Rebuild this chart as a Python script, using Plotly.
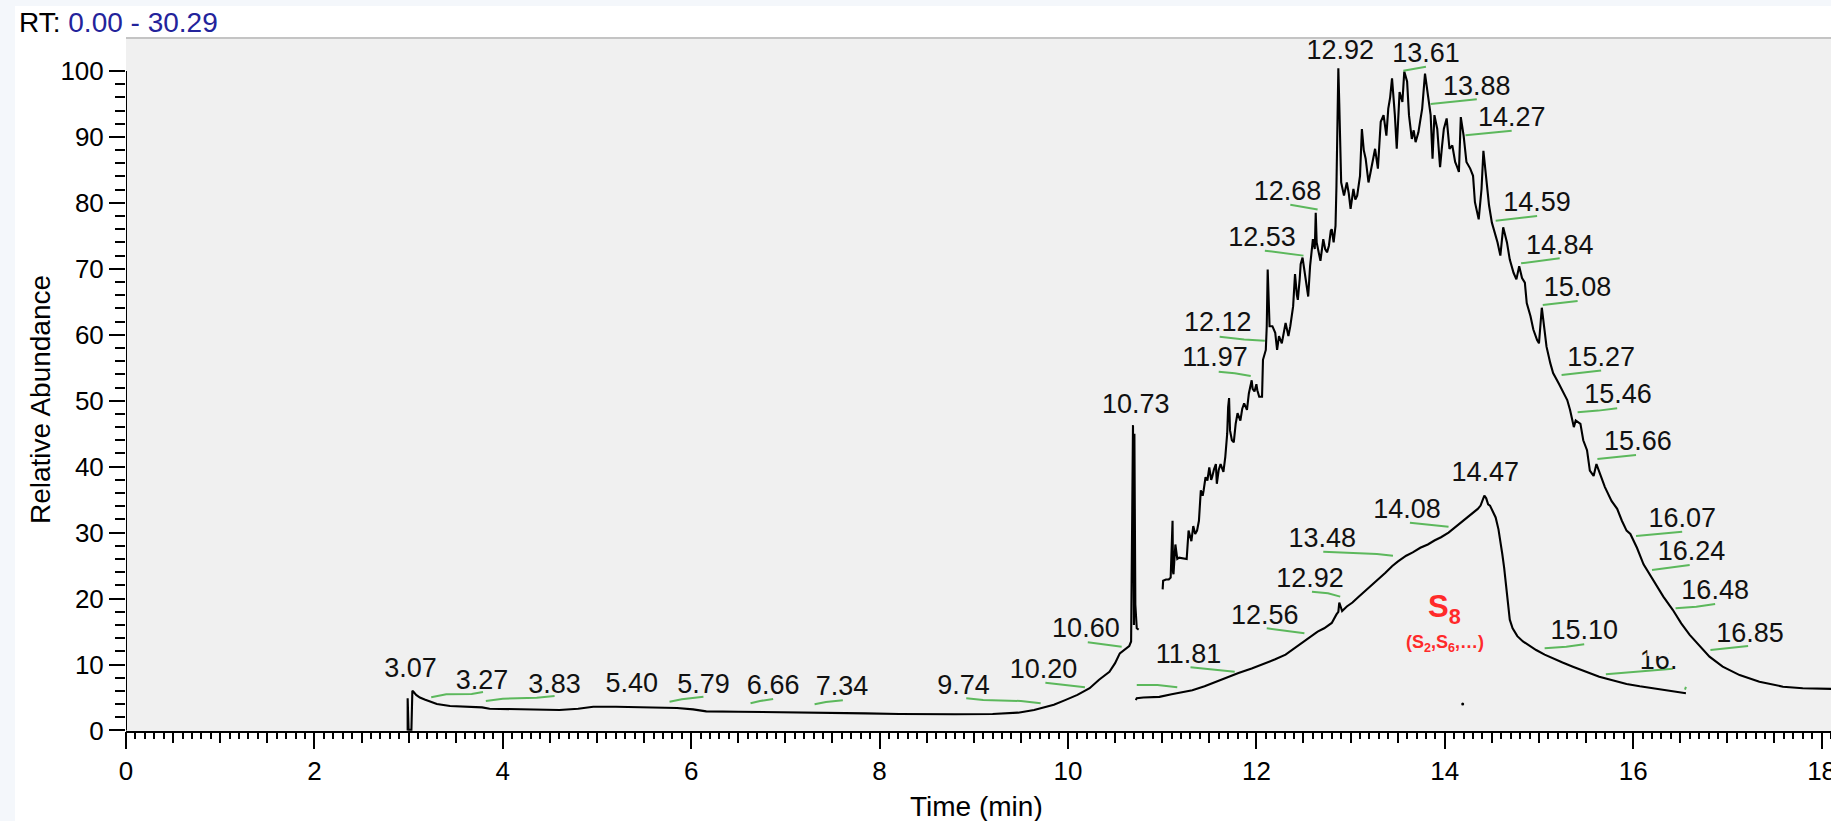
import plotly.graph_objects as go

# ---------------- data ----------------
# early chromatogram segment (3.0 - 10.75 min)
early_t = [2.99, 2.99, 3.00, 3.03, 3.04, 3.05, 3.08, 3.12, 3.17, 3.22, 3.30, 3.44, 3.55, 3.72, 3.78,
           3.86, 4.00, 4.14, 4.30, 4.45, 4.60, 4.80, 4.96, 5.20, 5.45, 5.70, 5.85, 6.02, 6.16, 6.50,
           6.90, 7.20, 7.47, 7.85, 8.21, 8.50, 8.80, 9.20, 9.47, 9.64, 9.75, 9.85, 9.97, 10.10, 10.23,
           10.33, 10.44, 10.50, 10.55, 10.58, 10.62, 10.65, 10.67, 10.685, 10.69, 10.70, 10.705, 10.715,
           10.73, 10.75]
early_i = [0.0, 4.9, 0.1, 0.1, 6.0, 5.9, 5.4, 5.0, 4.7, 4.4, 4.0, 3.7, 3.6, 3.5, 3.5,
           3.3, 3.25, 3.2, 3.15, 3.1, 3.1, 3.3, 3.6, 3.6, 3.55, 3.5, 3.4, 3.2, 2.9, 2.85,
           2.8, 2.75, 2.7, 2.6, 2.5, 2.45, 2.45, 2.5, 2.7, 3.1, 3.5, 3.9, 4.6, 5.4, 6.4,
           7.7, 8.9, 10.2, 11.7, 12.0, 12.4, 12.8, 13.5, 44.8, 46.3, 16.0, 45.0, 19.1,
           15.5, 15.3]

# broad upper hump (11.0 - 18.1 min)
hump_t = [11.005, 11.01, 11.04, 11.07, 11.09, 11.10, 11.11, 11.115, 11.12, 11.14, 11.16, 11.18, 11.22,
          11.26, 11.28, 11.31, 11.33, 11.35, 11.37, 11.39, 11.41, 11.43, 11.44, 11.46, 11.48, 11.50,
          11.52, 11.53, 11.55, 11.57, 11.58, 11.60, 11.62, 11.65, 11.67, 11.69, 11.70, 11.71, 11.72,
          11.74, 11.76, 11.78, 11.80, 11.83, 11.85, 11.87, 11.90, 11.92, 11.95, 11.96, 11.98, 12.00,
          12.01, 12.03, 12.06, 12.07, 12.10, 12.11, 12.12, 12.13, 12.14, 12.17, 12.20, 12.22, 12.24,
          12.27, 12.29, 12.31, 12.34, 12.36, 12.39, 12.41, 12.43, 12.44, 12.46, 12.47, 12.49, 12.52,
          12.55, 12.57, 12.60, 12.62, 12.63, 12.64, 12.66, 12.68, 12.71, 12.73, 12.75, 12.77, 12.79,
          12.80, 12.82, 12.84, 12.85, 12.86, 12.87, 12.88, 12.89, 12.90, 12.93, 12.96, 12.98, 13.00,
          13.03, 13.05, 13.07, 13.10, 13.12, 13.14, 13.16, 13.19, 13.21, 13.23, 13.26, 13.29, 13.31,
          13.32, 13.35, 13.38, 13.40, 13.42, 13.44, 13.46, 13.47, 13.49, 13.51, 13.52, 13.55, 13.57,
          13.60, 13.62, 13.65, 13.67, 13.69, 13.72, 13.74, 13.76, 13.79, 13.82, 13.85, 13.87, 13.89,
          13.92, 13.95, 13.97, 13.99, 14.02, 14.05, 14.08, 14.11, 14.13, 14.15, 14.17, 14.20, 14.23,
          14.27, 14.30, 14.32, 14.36, 14.38, 14.39, 14.41, 14.44, 14.47, 14.50, 14.54, 14.56, 14.59,
          14.62, 14.66, 14.69, 14.73, 14.76, 14.79, 14.82, 14.85, 14.87, 14.91, 14.94, 14.98, 15.00,
          15.03, 15.06, 15.08, 15.12, 15.15, 15.21, 15.26, 15.30, 15.33, 15.37, 15.39, 15.44, 15.47,
          15.51, 15.54, 15.58, 15.61, 15.65, 15.70, 15.77, 15.83, 15.88, 15.93, 15.97, 16.04, 16.11,
          16.21, 16.32, 16.42, 16.51, 16.60, 16.71, 16.81, 16.95, 17.13, 17.34, 17.59, 17.80, 18.10]
hump_i = [21.4, 22.7, 22.9, 22.9, 23.2, 29.0, 31.8, 24.0, 23.7, 28.2, 26.0, 26.2, 26.1,
          26.0, 30.3, 28.7, 31.0, 29.8, 30.3, 31.8, 36.4, 35.6, 36.4, 38.4, 37.9, 39.9,
          38.0, 38.4, 39.6, 40.4, 37.4, 39.5, 40.4, 39.2, 41.5, 45.0, 49.0, 50.4, 45.5,
          44.0, 43.7, 46.5, 48.1, 47.0, 48.8, 49.6, 48.6, 51.1, 53.1, 51.8, 51.4, 52.5,
          51.6, 50.6, 50.6, 56.2, 57.7, 61.3, 69.9, 63.0, 61.3, 61.3, 60.3, 57.7, 59.8,
          58.7, 60.5, 61.8, 59.8, 61.3, 64.3, 69.2, 66.0, 65.3, 68.5, 70.7, 71.7, 68.4,
          65.8, 70.4, 74.5, 73.0, 78.5, 74.0, 72.5, 71.2, 74.5, 73.0, 72.5, 73.5, 75.8,
          76.0, 74.0, 76.5, 82.6, 90.0, 100.4, 95.0, 86.0, 83.1, 81.1, 83.1, 81.5, 79.1,
          82.1, 80.5, 81.1, 84.1, 91.2, 88.0, 86.7, 83.1, 84.5, 86.2, 88.2, 85.2, 89.5,
          92.3, 93.3, 90.2, 94.3, 96.0, 98.9, 95.5, 93.3, 88.2, 93.0, 96.8, 95.3, 99.9,
          98.4, 93.3, 89.7, 91.0, 89.2, 90.7, 92.5, 94.3, 99.6, 96.3, 93.3, 86.7, 93.3,
          91.2, 85.4, 88.5, 91.2, 92.8, 88.2, 88.7, 86.2, 85.5, 84.7, 93.0, 90.2, 86.2,
          85.2, 84.1, 80.1, 77.5, 80.0, 82.1, 87.9, 84.1, 79.6, 77.0, 75.0, 74.0, 72.0,
          76.3, 74.0, 71.4, 69.4, 68.4, 70.4, 68.6, 67.9, 64.8, 62.8, 60.8, 59.2, 58.7,
          64.1, 60.3, 58.2, 55.7, 54.2, 52.6, 51.1, 50.1, 48.6, 46.0, 47.0, 46.5, 44.0,
          42.5, 39.4, 38.6, 40.4, 38.9, 36.9, 34.8, 33.6, 31.8, 30.3, 29.8, 27.7, 25.2,
          22.8, 20.3, 18.3, 16.25, 14.5, 12.7, 11.2, 9.67, 8.4, 7.4, 6.64, 6.4, 6.3]

# lower S8 trace (10.72 - 16.56 min)
s8_t = [10.72, 10.73, 10.80, 10.97, 11.10, 11.20, 11.32, 11.45, 11.57, 11.70, 11.81, 11.95, 12.06,
        12.20, 12.31, 12.40, 12.50, 12.58, 12.65, 12.72, 12.80, 12.85, 12.87, 12.88, 12.90, 12.91,
        12.96, 13.02, 13.08, 13.15, 13.22, 13.30, 13.37, 13.44, 13.50, 13.59, 13.66, 13.74, 13.82,
        13.89, 13.96, 14.04, 14.12, 14.19, 14.25, 14.31, 14.35, 14.38, 14.40, 14.42, 14.44, 14.46,
        14.48, 14.51, 14.54, 14.57, 14.59, 14.61, 14.63, 14.65, 14.67, 14.69, 14.72, 14.77, 14.83,
        14.90, 14.97, 15.06, 15.15, 15.25, 15.36, 15.50, 15.64, 15.78, 15.93, 16.07, 16.21, 16.38,
        16.56]
s8_i = [4.6, 4.9, 5.0, 5.1, 5.5, 5.8, 6.1, 6.7, 7.4, 8.1, 8.7, 9.4, 10.0,
        10.8, 11.5, 12.4, 13.5, 14.2, 15.0, 15.5, 16.3, 17.6, 18.0, 19.4, 18.4, 18.1,
        18.8, 19.4, 20.2, 21.1, 22.0, 22.9, 23.9, 24.9, 25.6, 26.5, 27.0, 27.7, 28.2,
        28.8, 29.3, 30.0, 30.9, 31.8, 32.4, 33.1, 33.6, 34.1, 34.8, 35.6, 35.2, 34.3,
        34.1, 33.3, 32.3, 30.5, 28.8, 26.8, 24.7, 22.3, 19.0, 16.8, 15.5, 14.3, 13.5,
        12.8, 12.2, 11.5, 10.9, 10.3, 9.67, 8.9, 8.16, 7.6, 7.05, 6.7, 6.4, 6.0,
        5.64]

# stray point
dot_t = [14.19]
dot_i = [4.0]

# peak labels (retention time text, position)
label_text = ["3.07", "3.27", "3.83", "5.40", "5.79", "6.66", "7.34", "9.74", "10.20", "10.60",
              "10.73", "11.81", "11.97", "12.12", "12.53", "12.68", "12.92", "13.61", "13.88",
              "14.27", "14.59", "14.84", "15.08", "15.27", "15.46", "15.66", "16.07", "16.24",
              "16.48", "16.85", "12.56", "12.92", "13.48", "14.08", "14.47", "15.10", "16."]
label_x = [3.02, 3.78, 4.55, 5.37, 6.13, 6.87, 7.60, 8.89, 9.74, 10.19,
           10.72, 11.28, 11.56, 11.59, 12.06, 12.33, 12.89, 13.80, 14.34,
           14.71, 14.98, 15.22, 15.41, 15.66, 15.84, 16.05, 16.52, 16.62,
           16.87, 17.24, 12.09, 12.57, 12.70, 13.60, 14.43, 15.48, 16.27]
label_y = [9.17, 7.25, 6.75, 6.9, 6.75, 6.55, 6.4, 6.55, 8.92, 15.13,
           49.2, 11.3, 56.3, 61.6, 74.5, 81.5, 102.9, 102.4, 97.4,
           92.7, 79.8, 73.3, 66.9, 56.3, 50.7, 43.55, 31.9, 26.9,
           20.9, 14.5, 17.16, 22.82, 28.9, 33.3, 38.9, 14.9, 10.4]

# compound annotation
s8_label = "<b>S<sub>8</sub></b>"
s8_sub_label = "<b>(S<sub>2</sub>,S<sub>6</sub>,…)</b>"
s8_label_pos = (14.0, 18.4)
s8_sub_pos = (14.0, 13.2)

# green label leaders: one list of (t, intensity) points per leader
leaders = [
    [(3.24, 5.03), (3.40, 5.49), (3.67, 5.53), (3.79, 5.84)],
    [(3.82, 4.47), (4.00, 4.82), (4.36, 4.97), (4.55, 5.23)],
    [(5.77, 4.37), (5.90, 4.73), (6.13, 5.13)],
    [(6.63, 4.12), (6.73, 4.47), (6.87, 4.78)],
    [(7.31, 3.97), (7.43, 4.32), (7.61, 4.58)],
    [(8.92, 4.88), (9.10, 4.62), (9.50, 4.47), (9.71, 4.12)],
    [(9.76, 7.25), (9.90, 7.05), (10.18, 6.55)],
    [(10.21, 13.37), (10.40, 13.07), (10.57, 12.71)],
    [(10.73, 6.9), (10.95, 6.9), (11.16, 6.55)],
    [(11.30, 9.58), (11.52, 9.28), (11.77, 8.92)],
    [(11.60, 54.4), (11.77, 54.16), (11.94, 53.75)],
    [(11.61, 59.7), (11.87, 59.3), (12.09, 59.1)],
    [(12.09, 72.75), (12.32, 72.36), (12.50, 72.0)],
    [(12.36, 79.7), (12.51, 79.3), (12.65, 79.0)],
    [(13.56, 100.05), (13.70, 100.4), (13.80, 100.65)],
    [(13.85, 95.0), (14.10, 95.35), (14.34, 95.7)],
    [(14.22, 90.25), (14.47, 90.65), (14.71, 90.95)],
    [(14.54, 77.3), (14.77, 77.66), (14.98, 78.0)],
    [(14.81, 70.84), (15.01, 71.24), (15.22, 71.6)],
    [(15.04, 64.5), (15.24, 64.78), (15.41, 65.13)],
    [(15.24, 53.9), (15.46, 54.26), (15.66, 54.57)],
    [(15.41, 48.25), (15.63, 48.5), (15.83, 48.86)],
    [(15.62, 41.17), (15.83, 41.43), (16.03, 41.77)],
    [(16.03, 29.49), (16.27, 29.8), (16.52, 30.15)],
    [(16.20, 24.34), (16.40, 24.74), (16.60, 25.09)],
    [(16.45, 18.53), (16.67, 18.77), (16.87, 19.18)],
    [(16.82, 12.2), (17.02, 12.46), (17.22, 12.81)],
    [(12.11, 15.5), (12.32, 15.13), (12.51, 14.74)],
    [(12.59, 21.05), (12.76, 20.8), (12.89, 20.29)],
    [(12.71, 27.1), (13.01, 26.96), (13.28, 26.76), (13.45, 26.5)],
    [(13.63, 31.5), (13.85, 31.16), (14.04, 30.9)],
    [(15.06, 12.46), (15.29, 12.7), (15.48, 13.07)],
    [(15.71, 8.52), (16.03, 8.92), (16.42, 9.37)],
    [(16.55, 6.2), (16.56, 6.6)],
]

# axis ticks
x_major = [0, 2, 4, 6, 8, 10, 12, 14, 16, 18]
x_major_text = ["0", "2", "4", "6", "8", "10", "12", "14", "16", "18"]
y_major = [0, 10, 20, 30, 40, 50, 60, 70, 80, 90, 100]
y_major_text = ["0", "10", "20", "30", "40", "50", "60", "70", "80", "90", "100"]
y_minor = [v for v in range(2, 100, 2) if v % 10 != 0]

x_range = [0, 18.1]
y_range = [-0.08, 105.0]

# ---------------- figure ----------------
W, H = 1831, 821
ML, MR, MT, MB = 126, 0, 38, 90
PW, PH = W - ML - MR, H - MT - MB
FONT = "Liberation Sans, Arial, sans-serif"
INK = "#000000"


def px_x(p):
    return (p - ML) / PW


def px_y(p):
    return (H - MB - p) / PH


lead_x, lead_y = [], []
for seg in leaders:
    for t, v in seg:
        lead_x.append(t)
        lead_y.append(v)
    lead_x.append(None)
    lead_y.append(None)

fig = go.Figure()
line_style = dict(color="#000000", width=2.1)
fig.add_trace(go.Scatter(x=early_t, y=early_i, mode="lines", line=line_style, hoverinfo="skip"))
fig.add_trace(go.Scatter(x=hump_t, y=hump_i, mode="lines", line=line_style, hoverinfo="skip"))
fig.add_trace(go.Scatter(x=s8_t, y=s8_i, mode="lines", line=line_style, hoverinfo="skip"))
fig.add_trace(go.Scatter(x=dot_t, y=dot_i, mode="markers", marker=dict(color="#000", size=3),
                         hoverinfo="skip"))
fig.add_trace(go.Scatter(x=lead_x, y=lead_y, mode="lines",
                         line=dict(color="#5cb85c", width=2), hoverinfo="skip"))
fig.add_trace(go.Scatter(x=label_x, y=label_y, mode="text", text=label_text,
                         textposition="middle center",
                         textfont=dict(family=FONT, size=27, color="#111111"), hoverinfo="skip"))
# dummy trace for the medium (0.5 min) tick axis
fig.add_trace(go.Scatter(x=[x_range[0]], y=[None], xaxis="x2", yaxis="y", mode="lines",
                         hoverinfo="skip"))

tick_font = dict(family=FONT, size=26, color=INK)
fig.update_layout(
    width=W, height=H,
    margin=dict(l=ML, r=MR, t=MT, b=MB, pad=0, autoexpand=False),
    paper_bgcolor="#ffffff",
    plot_bgcolor="#f0f0f0",
    showlegend=False,
    hovermode=False,
    xaxis=dict(range=x_range, tickmode="array", tickvals=x_major, ticktext=x_major_text,
               ticks="outside", ticklen=16, tickwidth=2, tickcolor=INK,
               showline=True, linecolor=INK, linewidth=2, showgrid=False, zeroline=False,
               tickfont=tick_font, ticklabeloverflow="allow", automargin=False,
               minor=dict(dtick=0.1, tick0=0, ticks="outside", ticklen=6, tickwidth=1.5,
                          tickcolor=INK, showgrid=False)),
    xaxis2=dict(range=x_range, overlaying="x", anchor="y", side="bottom",
                tickmode="linear", tick0=0, dtick=0.5, ticks="outside", ticklen=11,
                tickwidth=2, tickcolor=INK, showticklabels=False, showline=False,
                showgrid=False, zeroline=False, automargin=False),
    yaxis=dict(range=y_range, tickmode="array", tickvals=y_major, ticktext=y_major_text,
               ticks="outside", ticklen=16, tickwidth=2, tickcolor=INK, automargin=False,
               showline=False, showgrid=False, zeroline=False, tickfont=tick_font,
               minor=dict(tickmode="array", tickvals=y_minor, ticks="outside", ticklen=10,
                          tickwidth=2, tickcolor=INK, showgrid=False)),
    font=dict(family=FONT, color=INK),
)

# frame decorations: outer light strips, plot top border, y-axis line (0..100)
strip = "#f4f7fb"
fig.add_shape(type="rect", xref="paper", yref="paper", x0=px_x(0), x1=px_x(15), y0=px_y(H), y1=px_y(0),
              fillcolor=strip, line=dict(width=0), layer="below")
fig.add_shape(type="rect", xref="paper", yref="paper", x0=px_x(0), x1=px_x(W), y0=px_y(6), y1=px_y(0),
              fillcolor=strip, line=dict(width=0), layer="below")
fig.add_shape(type="line", xref="paper", yref="paper", x0=0, x1=1, y0=1, y1=1,
              line=dict(color="#c4c4c4", width=2), layer="above")
fig.add_shape(type="line", xref="x", yref="y", x0=x_range[0], x1=x_range[0],
              y0=y_major[0], y1=y_major[-1], line=dict(color=INK, width=2), layer="above")
# partly hidden label near 16.3 min
fig.add_shape(type="rect", xref="x", yref="y", x0=16.15, x1=16.37, y0=11.3, y1=12.6,
              fillcolor="#f0f0f0", line=dict(width=0), layer="above")

fig.add_annotation(x=s8_label_pos[0], y=s8_label_pos[1], xref="x", yref="y", text=s8_label,
                   showarrow=False, xanchor="center", yanchor="middle",
                   font=dict(family=FONT, size=31, color="#ff2a2a"))
fig.add_annotation(x=s8_sub_pos[0], y=s8_sub_pos[1], xref="x", yref="y", text=s8_sub_label,
                   showarrow=False, xanchor="center", yanchor="middle",
                   font=dict(family=FONT, size=18, color="#ff2a2a"))

fig.add_annotation(xref="paper", yref="paper", x=px_x(17), y=px_y(22), xanchor="left", yanchor="middle",
                   text="RT: <span style='color:#23239b'>0.00 - 30.29</span>", showarrow=False,
                   font=dict(family=FONT, size=28, color=INK))
fig.add_annotation(xref="paper", yref="paper", x=px_x(976), y=px_y(806), xanchor="center",
                   yanchor="middle", text="Time (min)", showarrow=False,
                   font=dict(family=FONT, size=28, color=INK))
fig.add_annotation(xref="paper", yref="paper", x=px_x(40), y=px_y(400), xanchor="center",
                   yanchor="middle", text="Relative Abundance", textangle=-90, showarrow=False,
                   font=dict(family=FONT, size=28, color=INK))

fig.write_html("out.html")
